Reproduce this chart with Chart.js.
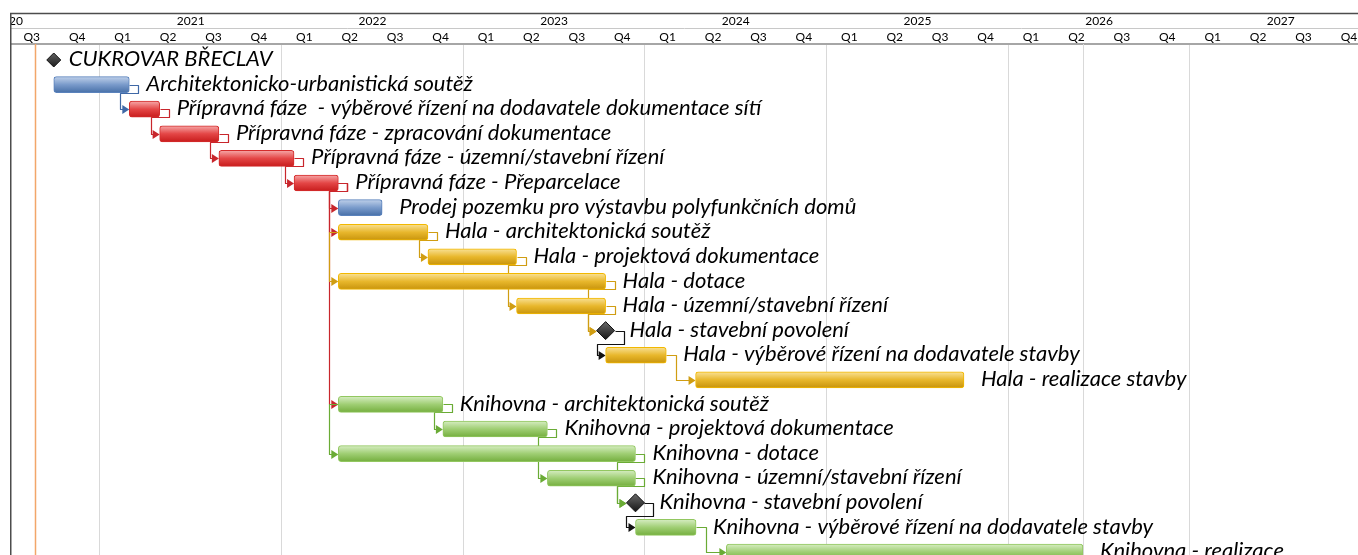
<!DOCTYPE html>
<html>
<head>
<meta charset="utf-8">
<script src="https://cdn.jsdelivr.net/npm/chart.js@4.4.1/dist/chart.umd.min.js"></script>
<style>
  html, body { margin: 0; padding: 0; background: #fff; }
  #wrap { position: absolute; left: 10px; top: 0; width: 1348px; height: 555px; overflow: hidden; }
</style>
</head>
<body>
<div id="wrap"><canvas id="gantt" width="1348" height="555"></canvas></div>
<script>
// tasks, one per row from the top
const taskNames = [
  'CUKROVAR BŘECLAV',
  'Architektonicko-urbanistická soutěž',
  'Přípravná fáze  - výběrové řízení na dodavatele dokumentace sítí',
  'Přípravná fáze - zpracování dokumentace',
  'Přípravná fáze - územní/stavební řízení',
  'Přípravná fáze - Přeparcelace',
  'Prodej pozemku pro výstavbu polyfunkčních domů',
  'Hala - architektonická soutěž',
  'Hala - projektová dokumentace',
  'Hala - dotace',
  'Hala - územní/stavební řízení',
  'Hala - stavební povolení',
  'Hala - výběrové řízení na dodavatele stavby',
  'Hala - realizace stavby',
  'Knihovna - architektonická soutěž',
  'Knihovna - projektová dokumentace',
  'Knihovna - dotace',
  'Knihovna - územní/stavební řízení',
  'Knihovna - stavební povolení',
  'Knihovna - výběrové řízení na dodavatele stavby',
  'Knihovna - realizace'
];
const taskStart = [
  '2020-09-30', '2020-09-30', '2021-03-01', '2021-05-01', '2021-08-28', '2022-01-26',
  '2022-04-25', '2022-04-25', '2022-10-22', '2022-04-25', '2023-04-18', '2023-10-14',
  '2023-10-14', '2024-04-12', '2022-04-25', '2022-11-21', '2022-04-25', '2023-06-19',
  '2023-12-13', '2023-12-13', '2024-06-13'
];
const taskEnd = [
  '2020-09-30', '2021-03-01', '2021-05-01', '2021-08-28', '2022-01-26', '2022-04-25',
  '2022-07-22', '2022-10-22', '2023-04-18', '2023-10-14', '2023-10-14', '2023-10-14',
  '2024-02-13', '2025-10-04', '2022-11-21', '2023-06-19', '2023-12-13', '2023-12-13',
  '2023-12-13', '2024-04-13', '2026-05-31'
];
const taskGroup = [
  'milestone', 'blue', 'red', 'red', 'red', 'red',
  'blue', 'gold', 'gold', 'gold', 'gold', 'milestone',
  'gold', 'gold', 'green', 'green', 'green', 'green',
  'milestone', 'green', 'green'
];

// links between rows: FS = finish-to-start, SS = start-to-start
const depFrom = [1, 2, 3, 4, 5, 5, 5, 7, 7, 8, 9, 10, 11, 12, 14, 14, 15, 16, 17, 18, 19];
const depTo   = [2, 3, 4, 5, 6, 7, 14, 8, 9, 10, 11, 11, 12, 13, 15, 16, 17, 18, 18, 19, 20];
const depType = ['FS', 'FS', 'FS', 'FS', 'FS', 'FS', 'FS', 'FS', 'SS', 'FS', 'FS', 'FS', 'FS', 'FS',
                 'FS', 'SS', 'FS', 'FS', 'FS', 'FS', 'FS'];

// timescale
const years = [2020, 2021, 2022, 2023, 2024, 2025, 2026, 2027];
const quarterLabels = ['Q1', 'Q2', 'Q3', 'Q4'];
const statusDate = '2020-08-23';
const finishDate = '2026-06-01';

function toYear(s) {
  const d = Date.parse(s + 'T00:00:00Z');
  const y = new Date(d).getUTCFullYear();
  const a = Date.UTC(y, 0, 1), b = Date.UTC(y + 1, 0, 1);
  return y + (d - a) / (b - a);
}

const X_MIN = 2020.505, X_MAX = 2027.925;
const HALF_YEAR_PX = 1348 / (X_MAX - X_MIN) / 2;

const quarterTicks = [];
const quarterTickLabels = [];
years.forEach(y => quarterLabels.forEach((q, i) => {
  const v = y + (i + 0.5) / 4;
  if (v > X_MIN && v < X_MAX) { quarterTicks.push(v); quarterTickLabels.push(q); }
}));

const palette = {
  blue:  { light: '#c0d1ea', mid: '#7a9bcb', dark: '#4870a8', border: '#5a82bc', line: '#3f68a6' },
  red:   { light: '#f6a8a8', mid: '#e44646', dark: '#c81c1c', border: '#d42c2c', line: '#c8262c' },
  gold:  { light: '#f9e196', mid: '#e8b72c', dark: '#c8940c', border: '#f2b800', line: '#d09d12' },
  green: { light: '#d6edc2', mid: '#9fce73', dark: '#74ae3e', border: '#92c760', line: '#6aab35' },
  milestone: { line: '#111111' }
};

const isMilestone = taskGroup.map(g => g === 'milestone');
// half width of the milestone diamonds in px
const msHalf = taskNames.map((n, i) => (i === 0 ? 7 : 9));

const barRows = [];
taskNames.forEach((n, i) => { if (!isMilestone[i]) barRows.push(i); });
const barData = barRows.map(i => ({ x: [toYear(taskStart[i]), toYear(taskEnd[i])], y: i }));
const msRows = [];
taskNames.forEach((n, i) => { if (isMilestone[i]) msRows.push(i); });
const msData = msRows.map(i => ({ x: toYear(taskStart[i]), y: i }));

function geom(chart, i) {
  const x = chart.scales.x, y = chart.scales.y;
  const c = y.getPixelForValue(i);
  if (isMilestone[i]) {
    const m = x.getPixelForValue(toYear(taskStart[i]));
    const r = msHalf[i];
    return { left: m - r, right: m + r, c: c, drop: 13 };
  }
  return { left: x.getPixelForValue(toYear(taskStart[i])), right: x.getPixelForValue(toYear(taskEnd[i])), c: c, drop: 8 };
}

const hasFS = taskNames.map((n, i) => depFrom.some((f, k) => f === i && depType[k] === 'FS'));

const ganttDecor = {
  id: 'ganttDecor',
  beforeDatasetsDraw(chart) {
    const { ctx, chartArea: a, scales: { x } } = chart;
    ctx.save();
    // status date and finish lines
    const sx = Math.round(x.getPixelForValue(toYear(statusDate))) + 0.5;
    ctx.strokeStyle = '#f2a66a';
    ctx.lineWidth = 1.5;
    ctx.beginPath(); ctx.moveTo(sx, a.top); ctx.lineTo(sx, a.bottom); ctx.stroke();
    const fx = Math.round(x.getPixelForValue(toYear(finishDate))) + 0.5;
    ctx.strokeStyle = '#d9d9d9';
    ctx.lineWidth = 1;
    ctx.beginPath(); ctx.moveTo(fx, a.top); ctx.lineTo(fx, a.bottom); ctx.stroke();

    // dependency connectors
    ctx.lineWidth = 1.2;
    ctx.lineJoin = 'round';
    for (let k = 0; k < depFrom.length; k++) {
      const p = geom(chart, depFrom[k]);
      const s = geom(chart, depTo[k]);
      const col = palette[taskGroup[depFrom[k]]].line;
      const al = v => Math.round(v) + 0.5;
      let pts;
      if (depType[k] === 'SS') {
        const vx = p.left - 9;
        pts = [[p.left, p.c], [vx, p.c], [vx, s.c], [s.left - 6, s.c]];
      } else if (s.left - p.right > 18) {
        const vx = p.right + 10;
        pts = [[p.right, p.c], [vx, p.c], [vx, s.c], [s.left - 6, s.c]];
      } else {
        const hx = p.right + 9, hy = p.c + p.drop, vx = s.left - 9;
        pts = [[p.right, p.c], [hx, p.c], [hx, hy], [vx, hy], [vx, s.c], [s.left - 6, s.c]];
      }
      ctx.strokeStyle = col;
      ctx.fillStyle = col;
      ctx.beginPath();
      pts.forEach((pt, j) => (j ? ctx.lineTo(al(pt[0]), al(pt[1])) : ctx.moveTo(al(pt[0]), al(pt[1]))));
      ctx.stroke();
      const ty = al(s.c);
      ctx.beginPath();
      ctx.moveTo(s.left, ty);
      ctx.lineTo(s.left - 7, ty - 4.5);
      ctx.lineTo(s.left - 7, ty + 4.5);
      ctx.closePath();
      ctx.fill();
    }
    ctx.restore();
  },
  afterDatasetsDraw(chart) {
    const { ctx } = chart;
    ctx.save();
    ctx.font = 'italic 22px Lato';
    ctx.fillStyle = '#000';
    ctx.textBaseline = 'middle';
    ctx.textAlign = 'left';
    taskNames.forEach((name, i) => {
      const g = geom(chart, i);
      const tx = isMilestone[i] ? g.right + (hasFS[i] ? 15 : 8) : g.right + 17;
      ctx.fillText(name, tx, g.c - 1);
    });
    ctx.restore();
  },
  afterDraw(chart) {
    const { ctx, chartArea: a, scales: { x2 } } = chart;
    ctx.save();
    ctx.strokeStyle = '#4d4d4d';
    ctx.lineWidth = 1.5;
    ctx.beginPath();
    ctx.moveTo(0, x2.top + 0.5); ctx.lineTo(a.right, x2.top + 0.5);
    ctx.moveTo(0.75, x2.top); ctx.lineTo(0.75, a.bottom);
    ctx.stroke();
    ctx.restore();
  }
};

function barFill(c) {
  const pal = palette[taskGroup[c.raw ? c.raw.y : 1]];
  const y = c.chart.scales.y;
  const yc = y && c.raw ? y.getPixelForValue(c.raw.y) : NaN;
  if (!isFinite(yc)) return pal.mid;
  const g = c.chart.ctx.createLinearGradient(0, yc - 8, 0, yc + 8);
  g.addColorStop(0, pal.light);
  g.addColorStop(0.5, pal.mid);
  g.addColorStop(1, pal.dark);
  return g;
}

function diamondFill(c) {
  const y = c.chart.scales.y;
  const yc = y && c.raw ? y.getPixelForValue(c.raw.y) : NaN;
  if (!isFinite(yc)) return '#2f2f2f';
  const g = c.chart.ctx.createLinearGradient(0, yc - 9, 0, yc + 9);
  g.addColorStop(0, '#6a6a6a');
  g.addColorStop(1, '#151515');
  return g;
}

new Chart(document.getElementById('gantt'), {
  type: 'bar',
  data: {
    datasets: [
      {
        type: 'scatter',
        data: msData,
        pointStyle: 'rectRot',
        pointRadius: msRows.map(i => msHalf[i]),
        pointBackgroundColor: diamondFill,
        pointBorderColor: '#111',
        pointBorderWidth: 1,
        clip: false
      },
      {
        data: barData,
        backgroundColor: barFill,
        borderColor: c => palette[taskGroup[c.raw ? c.raw.y : 1]].border,
        borderWidth: 1,
        borderRadius: 3,
        borderSkipped: false,
        barThickness: 16
      }
    ]
  },
  options: {
    indexAxis: 'y',
    responsive: false,
    devicePixelRatio: 1,
    animation: false,
    layout: { autoPadding: false, padding: { top: 13, left: 0, right: 0, bottom: 0 } },
    plugins: { legend: { display: false }, tooltip: { enabled: false } },
    scales: {
      x: {
        type: 'linear', position: 'top', min: X_MIN, max: X_MAX, weight: 0, offset: false,
        afterBuildTicks: s => { s.ticks = quarterTicks.map(v => ({ value: v })); },
        afterFit: s => { s.height = 16; s.paddingLeft = 0; s.paddingRight = 0; },
        ticks: {
          autoSkip: false, maxRotation: 0, minRotation: 0, padding: 0, color: '#000',
          font: { family: 'Lato', size: 12 },
          callback: (v, i) => quarterTickLabels[i]
        },
        grid: { display: true, drawOnChartArea: false, drawTicks: false, color: 'rgba(0,0,0,0)' },
        border: { display: true, color: '#a6a6a6', width: 2 }
      },
      x2: {
        type: 'linear', position: 'top', min: X_MIN, max: X_MAX, weight: 1, offset: false,
        afterBuildTicks: s => { s.ticks = years.map(v => ({ value: v })); },
        afterFit: s => { s.height = 15; s.paddingLeft = 0; s.paddingRight = 0; },
        ticks: {
          autoSkip: false, maxRotation: 0, minRotation: 0, padding: 0, color: '#000',
          labelOffset: HALF_YEAR_PX,
          font: { family: 'Lato', size: 12 },
          callback: v => String(v)
        },
        grid: { display: true, drawTicks: false, color: '#d9d9d9', lineWidth: 1 },
        border: { display: true, color: '#c8c8c8', width: 1 }
      },
      y: { type: 'linear', reverse: true, offset: false, grace: 0, min: -0.65, max: 20.12, display: false }
    }
  },
  plugins: [ganttDecor]
});
</script>
</body>
</html>
